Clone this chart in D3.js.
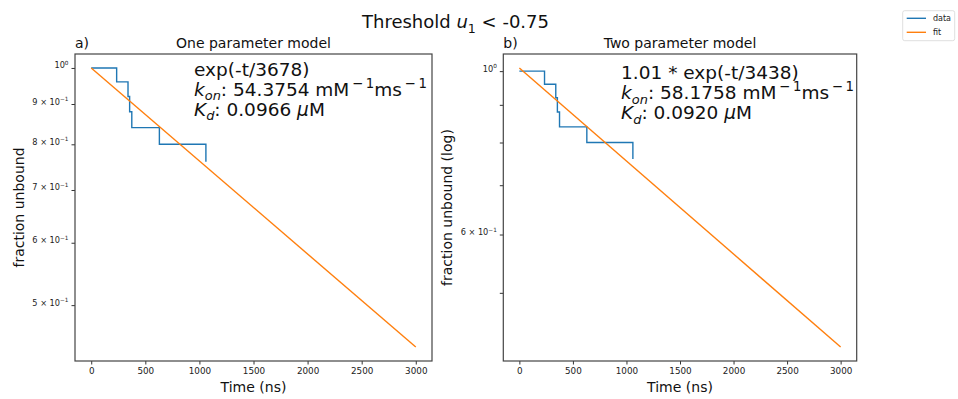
<!DOCTYPE html>
<html>
<head>
<meta charset="utf-8">
<script src="https://cdn.jsdelivr.net/npm/d3@7"></script>
<style>
  html, body { margin: 0; padding: 0; background: #fff; }
  svg { display: block; font-family: "DejaVu Sans", sans-serif; }
</style>
</head>
<body>
<script>
// Survival staircase of the unbound fraction (same events in both panels)
const dataTimes = [0, 235, 340, 355, 375, 630, 1060];
const dataFraction = [1.00, 0.96, 0.92, 0.88, 0.84, 0.80, 0.76];

// Exponential fits: amplitude * exp(-t / tau)
const fitTimes = [0, 3000];
const fitAmplitude = [1.0, 1.01];
const fitTau = [3678, 3438];
const fitLabels = ["exp(-t/3678)", "1.01 * exp(-t/3438)"];
const konValues = ["54.3754", "58.1758"];
const kdValues = ["0.0966", "0.0920"];

const panelLetters = ["a)", "b)"];
const panelTitles = ["One parameter model", "Two parameter model"];
const yAxisTitles = ["fraction unbound", "fraction unbound (log)"];
const xTickValues = [0, 500, 1000, 1500, 2000, 2500, 3000];
const yTickValues = [0.5, 0.6, 0.7, 0.8, 0.9, 1.0];
const yLabelled = [[0.5, 0.6, 0.7, 0.8, 0.9, 1.0], [0.6, 1.0]];
const legendLabels = ["data", "fit"];

const W = 958, H = 399;
const BLUE = "#1f77b4", ORANGE = "#ff7f0e";
const panels = [{ x0: 75, x1: 432 }, { x0: 503.3, x1: 856.7 }];
const plotTop = 54, plotBottom = 361;

const svg = d3.select("body").append("svg").attr("width", W).attr("height", H);
svg.append("rect").attr("width", W).attr("height", H).attr("fill", "#fff");

// Mixed-style text line: parts are {t, it, sub, sup}
function richText(sel, parts, size, supScale = 0.7) {
  let shift = 0;
  parts.forEach(p => {
    const want = p.sub ? size * 0.26 : p.sup ? -size * 0.42 : 0;
    const ts = sel.append("tspan")
      .attr("dy", want - shift)
      .attr("font-size", p.sub ? size * 0.7 : p.sup ? size * supScale : size)
      .text(p.t);
    if (p.it) ts.attr("font-style", "italic");
    shift = want;
  });
}

svg.append("text")
  .attr("x", 455.5).attr("y", 28.3)
  .attr("text-anchor", "middle").attr("fill", "#111")
  .call(s => richText(s, [
    { t: "Threshold " }, { t: "u", it: true }, { t: "1", sub: true }, { t: " < -0.75" }
  ], 18));

panels.forEach((P, i) => {
  const amp = fitAmplitude[i], tau = fitTau[i];
  const fitPts = fitTimes.map(t => ({ t, v: amp * Math.exp(-t / tau) }));
  const dataPts = dataTimes.map((t, k) => ({ t, v: dataFraction[k] }));

  // Axis limits padded by 5% (log space for y)
  const vals = dataFraction.concat(fitPts.map(d => d.v));
  const lo = Math.log10(d3.min(vals)), hi = Math.log10(d3.max(vals));
  const py = 0.05 * (hi - lo);
  const tExt = d3.extent(dataTimes.concat(fitTimes));
  const px = 0.05 * (tExt[1] - tExt[0]);

  const x = d3.scaleLinear().domain([tExt[0] - px, tExt[1] + px]).range([P.x0, P.x1]);
  const y = d3.scaleLog().domain([10 ** (lo - py), 10 ** (hi + py)]).range([plotBottom, plotTop]);

  const g = svg.append("g");
  const clipId = "clip" + i;
  g.append("clipPath").attr("id", clipId).append("rect")
    .attr("x", P.x0).attr("y", plotTop).attr("width", P.x1 - P.x0).attr("height", plotBottom - plotTop);

  const plot = g.append("g").attr("clip-path", `url(#${clipId})`);
  plot.append("path").datum(dataPts)
    .attr("d", d3.line().x(d => x(d.t)).y(d => y(d.v)).curve(d3.curveStepAfter))
    .attr("fill", "none").attr("stroke", BLUE).attr("stroke-width", 1.4);
  plot.append("path").datum(fitPts)
    .attr("d", d3.line().x(d => x(d.t)).y(d => y(d.v)))
    .attr("fill", "none").attr("stroke", ORANGE).attr("stroke-width", 1.4);

  // x axis
  const xa = g.append("g").attr("transform", `translate(0,${plotBottom})`)
    .call(d3.axisBottom(x).tickValues(xTickValues).tickSize(3.5).tickPadding(3).tickFormat(d3.format("d")));
  xa.select(".domain").remove();
  xa.selectAll("line").attr("stroke", "#333");
  xa.selectAll("text").attr("font-size", 8.8).attr("fill", "#222").attr("font-family", "DejaVu Sans");

  // y axis (log) with scientific labels; unlabelled minor ticks keep only their mark
  const yTicks = yTickValues.filter(v => v >= y.domain()[0] && v <= y.domain()[1]);
  const ya = g.append("g").attr("transform", `translate(${P.x0},0)`)
    .call(d3.axisLeft(y).tickValues(yTicks).tickSize(3.5).tickPadding(3).tickFormat(() => ""));
  ya.select(".domain").remove();
  ya.selectAll("line").attr("stroke", "#333");
  ya.selectAll(".tick text").each(function (v) {
    const t = d3.select(this);
    if (!yLabelled[i].some(l => Math.abs(l - v) < 1e-9)) { t.remove(); return; }
    t.attr("font-size", 8.2).attr("fill", "#222").attr("font-family", "DejaVu Sans");
    const m = Math.round(v * 10);
    const parts = m === 10
      ? [{ t: "10" }, { t: "0", sup: true }]
      : [{ t: m + " \u00d7 10" }, { t: "\u22121", sup: true }];
    richText(t, parts, 8.2);
  });

  // frame
  g.append("rect").attr("x", P.x0).attr("y", plotTop)
    .attr("width", P.x1 - P.x0).attr("height", plotBottom - plotTop)
    .attr("fill", "none").attr("stroke", "#444").attr("stroke-width", 1.2);

  // titles and axis labels
  const cx = (P.x0 + P.x1) / 2;
  g.append("text").attr("x", P.x0).attr("y", 48.3).attr("font-size", 14).attr("fill", "#111").text(panelLetters[i]);
  g.append("text").attr("x", cx).attr("y", 48.3).attr("font-size", 14).attr("fill", "#111")
    .attr("text-anchor", "middle").text(panelTitles[i]);
  g.append("text").attr("x", cx).attr("y", 391.5).attr("font-size", 14).attr("fill", "#111")
    .attr("text-anchor", "middle").text("Time (ns)");
  g.append("text")
    .attr("transform", `translate(${P.x0 - 51},${(plotTop + plotBottom) / 2}) rotate(-90)`)
    .attr("font-size", 14).attr("fill", "#111").attr("text-anchor", "middle").text(yAxisTitles[i]);

  // fit annotation
  const ax = P.x0 + (P.x1 - P.x0) / 3;
  const ay = y(1.0) + 7.6;
  const fs = 18.5;
  const ann = g.append("g").attr("fill", "#111");
  ann.append("text").attr("x", ax).attr("y", ay).attr("font-size", fs).text(fitLabels[i]);
  ann.append("text").attr("x", ax).attr("y", ay + 20).attr("font-size", fs)
    .call(s => richText(s, [
      { t: "k", it: true }, { t: "on", it: true, sub: true },
      { t: ": " + konValues[i] + " mM" }, { t: "\u2009\u2212\u20091", sup: true },
      { t: "ms" }, { t: "\u2009\u2212\u20091", sup: true }
    ], fs, 0.72));
  ann.append("text").attr("x", ax).attr("y", ay + 40).attr("font-size", fs)
    .call(s => richText(s, [
      { t: "K", it: true }, { t: "d", it: true, sub: true },
      { t: ": " + kdValues[i] + " " }, { t: "\u03bc", it: true }, { t: "M" }
    ], fs));
});

// legend
const leg = svg.append("g");
leg.append("rect").attr("x", 902.7).attr("y", 10.7).attr("width", 52).attr("height", 30)
  .attr("rx", 2).attr("fill", "#fff").attr("stroke", "#d6d6d6").attr("stroke-width", 0.8);
[BLUE, ORANGE].forEach((c, k) => {
  const ly = 18.3 + k * 14;
  leg.append("line").attr("x1", 906.7).attr("x2", 926).attr("y1", ly).attr("y2", ly)
    .attr("stroke", c).attr("stroke-width", 1.4);
  leg.append("text").attr("x", 933).attr("y", ly).attr("dy", "0.35em")
    .attr("font-size", 8).attr("fill", "#222").text(legendLabels[k]);
});
</script>
</body>
</html>
